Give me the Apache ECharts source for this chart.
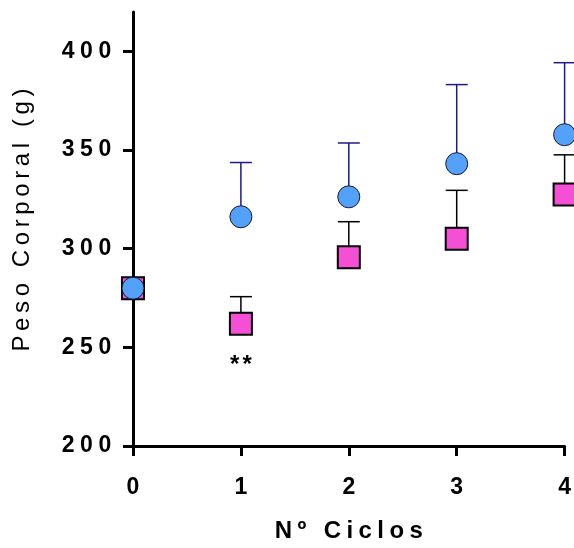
<!DOCTYPE html>
<html>
<head>
<meta charset="utf-8">
<script src="https://cdn.jsdelivr.net/npm/echarts@6/dist/echarts.min.js"></script>
<style>html,body{margin:0;padding:0;background:#fff;}#c{width:574px;height:548px;}</style>
</head>
<body>
<div id="c"></div>
<script>
// Data
const cycles = [0, 1, 2, 3, 4];
const circleMean = [280, 316.2, 326.3, 343.1, 357.8];
const circleErr = [0, 27.5, 27.3, 40.1, 36.5];
const squareMean = [280, 262, 295.7, 305, 327.5];
const squareErr = [0, 13.7, 18, 24.6, 20.1];
const yTicks = [200, 250, 300, 350, 400];
const xTicks = [0, 1, 2, 3, 4];
const yName = 'Peso Corporal (g)';
const xName = 'Nº Ciclos';
const sigLabel = '**';
const sigIndex = 1;

const FONT = 'Liberation Sans, Arial, sans-serif';
function spaced(str, key) {
  return str.split('').map(c => '{' + key + '|' + c + '}').join('');
}

function errSeries(mean, err, color, z) {
  return {
    type: 'custom',
    z: z,
    clip: false,
    data: cycles.map((x, i) => [x, mean[i], mean[i] + err[i]]),
    renderItem: function (params, api) {
      const x = api.value(0), y0 = api.value(1), y1 = api.value(2);
      if (y1 <= y0) return null;
      const p0 = api.coord([x, y0]);
      const p1 = api.coord([x, y1]);
      const hw = 11;
      return {
        type: 'group',
        children: [
          { type: 'line', shape: { x1: p0[0], y1: p0[1], x2: p1[0], y2: p1[1] }, style: { stroke: color, lineWidth: 1.5 } },
          { type: 'line', shape: { x1: p1[0] - hw, y1: p1[1], x2: p1[0] + hw, y2: p1[1] }, style: { stroke: color, lineWidth: 1.5 } }
        ]
      };
    }
  };
}

const chart = echarts.init(document.getElementById('c'), null, { renderer: 'canvas' });
chart.setOption({
  backgroundColor: '#fff',
  animation: false,
  grid: { left: 133, right: 7, top: 12, bottom: 99, containLabel: false },
  xAxis: {
    type: 'value', min: 0, max: 4, interval: 1,
    name: xName, nameLocation: 'middle', nameGap: 73,
    nameTextStyle: {
      rich: { a: { fontFamily: FONT, fontWeight: 'bold', fontSize: 24, color: '#000', padding: [0, 2.7] } }
    },
    splitLine: { show: false },
    axisLine: { show: true, onZero: false, lineStyle: { color: '#000', width: 3 } },
    axisTick: { show: true, length: 10, lineStyle: { color: '#000', width: 3 }, customValues: xTicks },
    axisLabel: { customValues: xTicks, margin: 30, fontFamily: FONT, fontWeight: 'bold', fontSize: 23, color: '#000' }
  },
  yAxis: {
    type: 'value', min: 200, max: 420, interval: 50,
    name: yName, nameLocation: 'middle', nameGap: 99,
    nameTextStyle: {
      padding: [0, 0, 0, 18],
      rich: { a: { fontFamily: FONT, fontWeight: 'normal', fontSize: 24, color: '#000', padding: [0, 2.3] } }
    },
    splitLine: { show: false },
    axisLine: { show: true, onZero: false, lineStyle: { color: '#000', width: 3 } },
    axisTick: { show: true, length: 10, lineStyle: { color: '#000', width: 3 }, customValues: yTicks },
    axisLabel: {
      customValues: yTicks, margin: 19,
      formatter: v => spaced(String(v), 'a'),
      rich: { a: { fontFamily: FONT, fontWeight: 'bold', fontSize: 23, color: '#000', padding: [0, 2.8] } }
    }
  },
  series: [
    errSeries(squareMean, squareErr, '#000', 2),
    {
      type: 'scatter', z: 3, clip: false,
      symbol: 'rect', symbolSize: 22,
      itemStyle: { color: '#F54FD5', borderColor: '#000', borderWidth: 2, opacity: 1 },
      data: cycles.map((x, i) => {
        const d = { value: [x, squareMean[i]] };
        if (i === sigIndex) {
          d.label = {
            show: true, position: 'bottom', distance: 18,
            formatter: spaced(sigLabel, 'a'),
            rich: { a: { fontFamily: FONT, fontWeight: 'bold', fontSize: 24, color: '#000', padding: [0, 1.5] } }
          };
        }
        return d;
      })
    },
    errSeries(circleMean, circleErr, '#1b1b8c', 4),
    {
      type: 'scatter', z: 5, clip: false,
      symbol: 'circle', symbolSize: 22,
      itemStyle: { color: '#53A1F8', borderColor: '#1a1a3a', borderWidth: 1, opacity: 1 },
      data: cycles.map((x, i) => [x, circleMean[i]])
    }
  ]
});
chart.setOption({
  xAxis: { name: spaced(xName, 'a') },
  yAxis: { name: spaced(yName, 'a') }
});
</script>
</body>
</html>
